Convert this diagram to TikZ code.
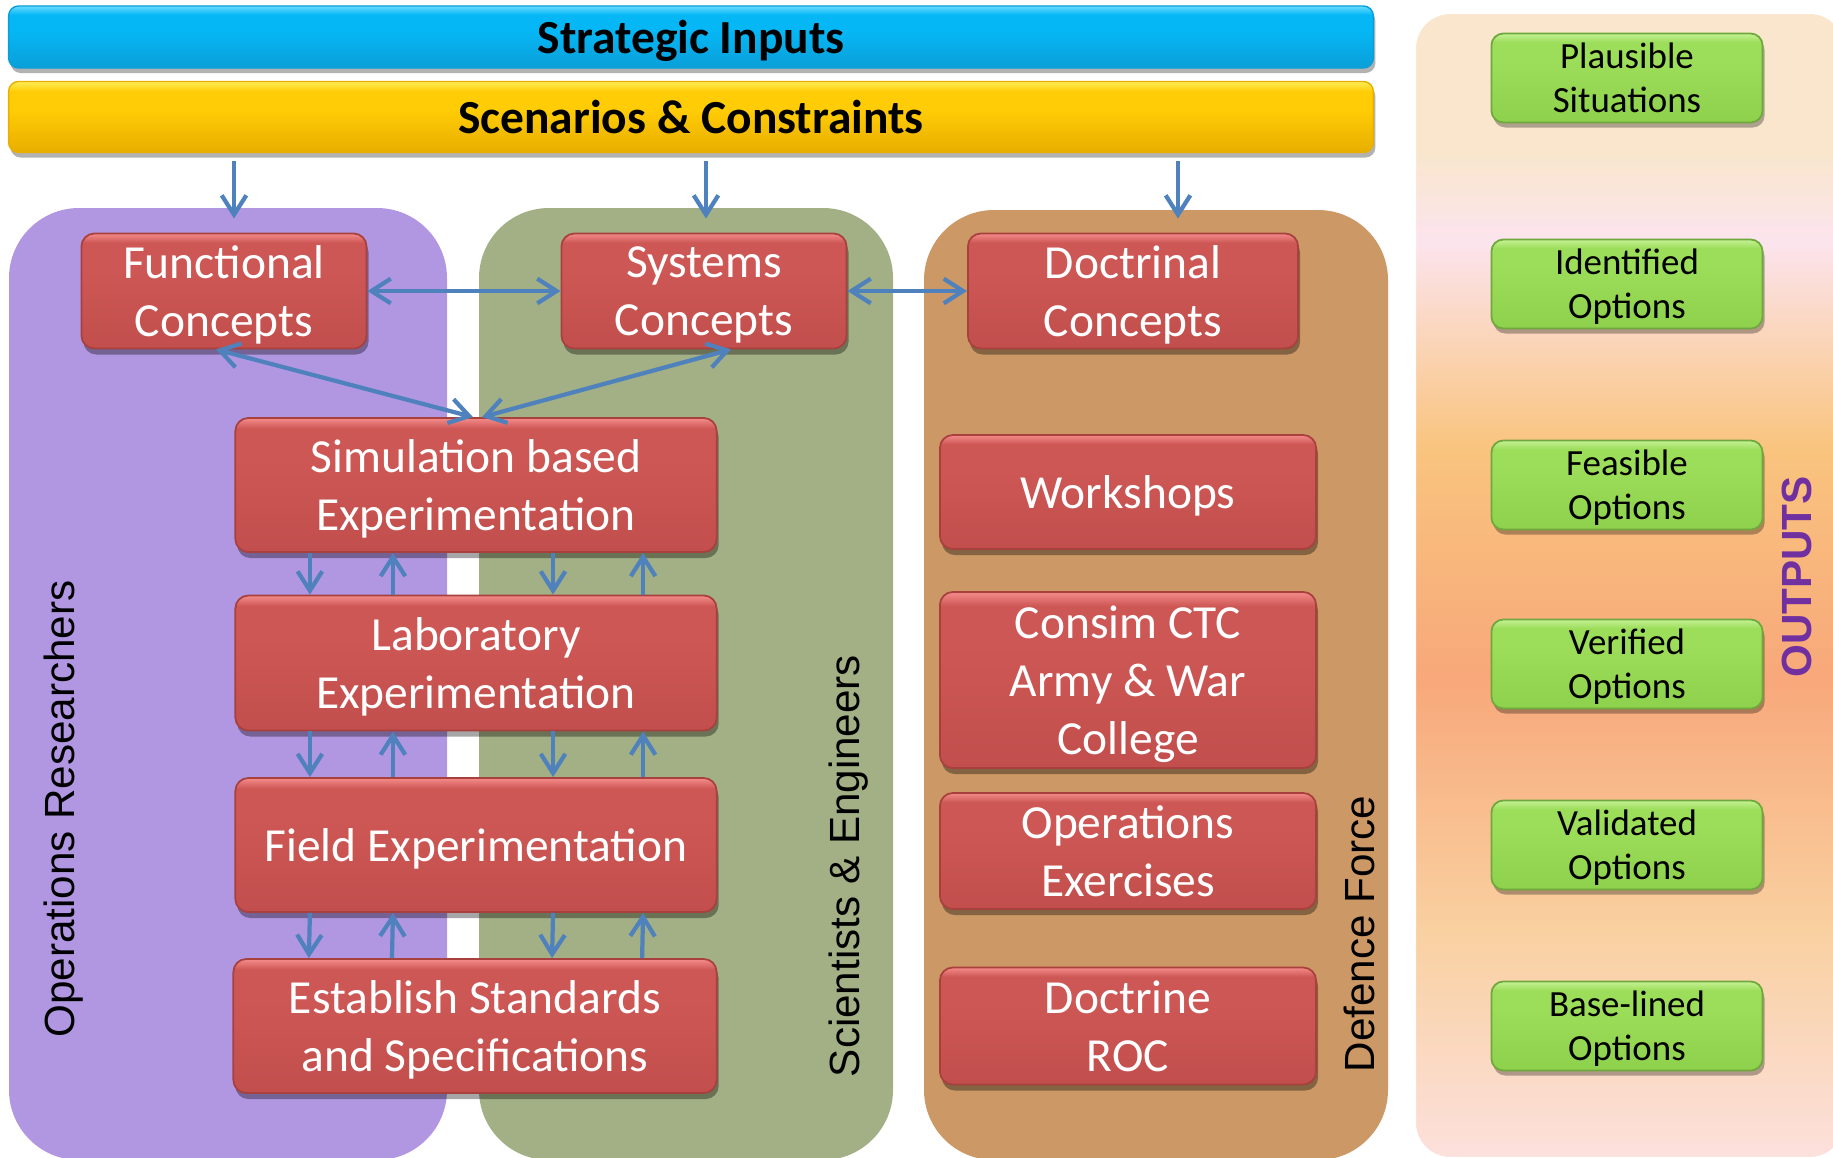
\documentclass[tikz,border=0pt]{standalone}
\usepackage{fontspec}
\setmainfont{Carlito}
\newfontfamily\arialfont{Liberation Sans}
\usetikzlibrary{arrows.meta,shadows}

\definecolor{lanepurple}{HTML}{B197E2}
\definecolor{lanegreen}{HTML}{A3B085}
\definecolor{lanebrown}{HTML}{CC9966}
\definecolor{redtop}{HTML}{F48C8A}
\definecolor{redmid}{HTML}{CD5755}
\definecolor{redlow}{HTML}{C24F4D}
\definecolor{redline}{HTML}{A8403E}
\definecolor{greentop}{HTML}{C4F294}
\definecolor{greenmid}{HTML}{9CDD5A}
\definecolor{greenlow}{HTML}{8ED14C}
\definecolor{greenline}{HTML}{6FA83C}
\definecolor{bluetop}{HTML}{6ADCFF}
\definecolor{bluemid}{HTML}{05B7F5}
\definecolor{bluelow}{HTML}{0A9FD8}
\definecolor{yellowtop}{HTML}{FFEE55}
\definecolor{yellowmid}{HTML}{FFCC05}
\definecolor{yellowlow}{HTML}{E8AE00}
\definecolor{flowblue}{HTML}{4F81BD}
\definecolor{outpurple}{HTML}{7030A0}
\definecolor{pan1}{HTML}{F9E6CC}
\definecolor{pan2}{HTML}{FCE4EE}
\definecolor{pan3}{HTML}{F9C47E}
\definecolor{pan4}{HTML}{F8A87A}
\definecolor{pan5}{HTML}{F9D0A0}
\definecolor{pan6}{HTML}{FCE0DC}

\pgfdeclareverticalshading{redbox}{100bp}{color(0bp)=(redlow); color(25bp)=(redlow);
  color(60bp)=(redmid); color(71bp)=(redmid); color(75bp)=(redtop); color(100bp)=(redtop)}
\pgfdeclareverticalshading{greenbox}{100bp}{color(0bp)=(greenlow); color(25bp)=(greenlow);
  color(60bp)=(greenmid); color(70bp)=(greenmid); color(75bp)=(greentop); color(100bp)=(greentop)}
\pgfdeclareverticalshading{bluebar}{100bp}{color(0bp)=(bluelow); color(25bp)=(bluelow);
  color(55bp)=(bluemid); color(68bp)=(bluemid); color(75bp)=(bluetop); color(100bp)=(bluetop)}
\pgfdeclareverticalshading{yellowbar}{100bp}{color(0bp)=(yellowlow); color(25bp)=(yellowlow);
  color(55bp)=(yellowmid); color(68bp)=(yellowmid); color(75bp)=(yellowtop); color(100bp)=(yellowtop)}
\pgfdeclareverticalshading{outpanel}{100bp}{color(0bp)=(pan6); color(25bp)=(pan6);
  color(35bp)=(pan5); color(46bp)=(pan4); color(56bp)=(pan3); color(65bp)=(pan2);
  color(69bp)=(pan1); color(75bp)=(pan1); color(100bp)=(pan1)}

\tikzset{
  box/.style={rounded corners=0.13cm, draw=redline, line width=0.5pt, shading=redbox,
    text=white, align=center, inner sep=0pt, text depth=0pt,
    font=\fontsize{13.5}{16.4}\selectfont,
    drop shadow={shadow xshift=0.02cm, shadow yshift=-0.06cm, opacity=0.35, fill=black}},
  outbox/.style={rounded corners=0.12cm, draw=greenline, line width=0.5pt, shading=greenbox,
    align=center, inner sep=0pt, text depth=0pt, minimum width=2.71cm, minimum height=0.89cm,
    font=\fontsize{10.5}{12.6}\selectfont,
    drop shadow={shadow xshift=0.02cm, shadow yshift=-0.05cm, opacity=0.3, fill=black}},
  bar/.style={rounded corners=0.1cm, inner sep=0pt, text depth=0pt, minimum width=13.64cm,
    font=\bfseries\fontsize{13.5}{16}\selectfont,
    drop shadow={shadow xshift=0.02cm, shadow yshift=-0.05cm, opacity=0.3, fill=black}},
  lane/.style={rounded corners=0.7cm},
  lanelabel/.style={rotate=90, font=\arialfont\fontsize{12}{14}\selectfont},
  flow/.style={draw=flowblue, line width=1.2pt,
    -{Straight Barb[length=5.5pt,width=7pt,line width=1.2pt]}},
  biflow/.style={flow, {Straight Barb[length=5.5pt,width=7pt,line width=1.2pt]}-{Straight Barb[length=5.5pt,width=7pt,line width=1.2pt]}}
}

\begin{document}
\begin{tikzpicture}[x=0.01cm,y=-0.01cm]
\useasboundingbox (0,0) rectangle (1833,1157);

% lanes behind everything
\fill [lane, lanepurple] (9,208) rectangle (447,1160);
\fill [lane, lanegreen] (479,208) rectangle (893,1160);
\fill [lane, lanebrown] (924,210) rectangle (1388,1160);
\shade [rounded corners=0.35cm, shading=outpanel, draw=white, line width=0.6pt] (1415,13) rectangle (1845,1158);

% top bars
\node [bar, shading=bluebar, draw=bluelow, minimum height=0.62cm] (strat) at (691,37) {Strategic Inputs};
\node [bar, shading=yellowbar, draw=yellowlow, minimum height=0.71cm] (scen) at (691,117) {Scenarios \& Constraints};

% concepts
\node [box, minimum width=2.85cm, minimum height=1.15cm] (func) at (224,291) {Functional\\Concepts};
\node [box, minimum width=2.85cm, minimum height=1.15cm] (sys) at (704,291) {Systems\\Concepts};
\node [box, minimum width=3.3cm, minimum height=1.15cm] (doct) at (1133,291) {Doctrinal\\Concepts};

% experimentation ladder
\node [box, minimum width=4.81cm, minimum height=1.34cm] (sim) at (476,485) {Simulation based\\Experimentation};
\node [box, minimum width=4.81cm, minimum height=1.35cm] (lab) at (476,663) {Laboratory\\Experimentation};
\node [box, minimum width=4.81cm, minimum height=1.34cm] (field) at (476,845) {Field Experimentation};
\node [box, minimum width=4.83cm, minimum height=1.34cm] (std) at (475,1026) {Establish Standards\\and Specifications};

% defence force activities
\node [box, minimum width=3.76cm, minimum height=1.14cm] (work) at (1128,492) {Workshops};
\node [box, minimum width=3.76cm, minimum height=1.76cm] (consim) at (1128,680) {Consim CTC\\Army \& War\\College};
\node [box, minimum width=3.76cm, minimum height=1.16cm] (opex) at (1128,851) {Operations\\Exercises};
\node [box, minimum width=3.76cm, minimum height=1.17cm] (docroc) at (1128,1026) {Doctrine\\ROC};

% outputs
\node [outbox] (plaus) at (1627,78) {Plausible\\Situations};
\node [outbox] (ident) at (1627,284) {Identified\\Options};
\node [outbox] (feas) at (1627,485) {Feasible\\Options};
\node [outbox] (verif) at (1627,664) {Verified\\Options};
\node [outbox] (valid) at (1627,845) {Validated\\Options};
\node [outbox] (base) at (1627,1026) {Base-lined\\Options};

% lane labels
\node [lanelabel] (oplab) at (64,809) {Operations Researchers};
\node [lanelabel] (scilab) at (849,866) {Scientists \& Engineers};
\node [lanelabel] (deflab) at (1359,934) {Defence Force};
\node [lanelabel, font=\arialfont\bfseries\fontsize{12}{14}\selectfont, text=outpurple] (outlab) at (1797,577) {OUTPUTS};

% inputs into the lanes
\coordinate (tap1) at (234,161);
\coordinate (tap2) at (706,161);
\coordinate (tap3) at (1178,161);
\draw [flow] (tap1) -- (tap1 |- func.north) [shorten >=0.14cm];
\draw [flow] (tap2) -- (tap2 |- sys.north) [shorten >=0.14cm];
\draw [flow] (tap3) -- (tap3 |- doct.north) [shorten >=0.14cm];

\draw [biflow] (func.east) -- (sys.west);
\draw [biflow] (sys.east) -- (doct.west);
\draw [biflow] ([xshift=-0.08cm]func.south) -- ([xshift=-0.03cm]sim.north);
\draw [biflow] ([xshift=0.27cm]sys.south) -- ([xshift=0.06cm]sim.north);

\foreach \a/\b in {sim/lab, lab/field, field/std} {
  \draw [flow] ([xshift=-1.66cm]\a.south) -- ([xshift=-1.66cm]\b.north);
  \draw [flow] ([xshift=-0.83cm]\b.north) -- ([xshift=-0.83cm]\a.south);
  \draw [flow] ([xshift=0.77cm]\a.south) -- ([xshift=0.77cm]\b.north);
  \draw [flow] ([xshift=1.67cm]\b.north) -- ([xshift=1.67cm]\a.south);
}
\end{tikzpicture}
\end{document}
